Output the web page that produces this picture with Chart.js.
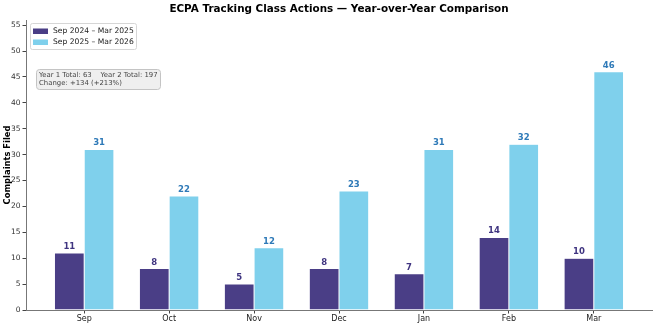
<!DOCTYPE html>
<html>
<head>
<meta charset="utf-8">
<script src="https://cdn.jsdelivr.net/npm/chart.js@4.4.1/dist/chart.umd.min.js"></script>
<style>
  html, body { margin: 0; padding: 0; background: #fff; }
  #wrap { width: 656px; height: 326px; }
</style>
</head>
<body>
<div id="wrap"><canvas id="ecpa"></canvas></div>
<script>
const months = ["Sep", "Oct", "Nov", "Dec", "Jan", "Feb", "Mar"];
const year1 = [11, 8, 5, 8, 7, 14, 10]; // Sep 2024 – Mar 2025
const year2 = [31, 22, 12, 23, 31, 32, 46]; // Sep 2025 – Mar 2026
const yTicks = [0, 5, 10, 15, 20, 25, 30, 35, 40, 45, 50, 55];

const darkCol = "#4a3e86";
const lightCol = "#7fd0ec";
const font = "'DejaVu Sans', sans-serif";

const total1 = year1.reduce((a, b) => a + b, 0);
const total2 = year2.reduce((a, b) => a + b, 0);
const diff = total2 - total1;
const pct = Math.round((diff / total1) * 100);

// titre, légende, encadré et étiquettes de valeurs
const extras = {
  id: "extras",
  afterDatasetsDraw(chart) {
    const ctx = chart.ctx;
    const area = chart.chartArea;
    ctx.save();

    // valeurs au-dessus des barres
    ctx.font = "bold 8.5px " + font;
    ctx.textAlign = "center";
    ctx.textBaseline = "bottom";
    chart.data.datasets.forEach((ds, i) => {
      ctx.fillStyle = i === 0 ? "#3f3480" : "#2f7ab8";
      chart.getDatasetMeta(i).data.forEach((bar, j) => {
        ctx.fillText(String(ds.data[j]), bar.x, bar.y - 2);
      });
    });

    // titre
    ctx.fillStyle = "#000";
    ctx.font = "bold 10.4px " + font;
    ctx.textBaseline = "middle";
    ctx.fillText("ECPA Tracking Class Actions — Year-over-Year Comparison", (area.left + area.right) / 2, 9);

    // légende
    ctx.fillStyle = "rgba(255,255,255,0.9)";
    ctx.strokeStyle = "#d6d6d6";
    ctx.lineWidth = 1;
    ctx.beginPath();
    ctx.roundRect(30.5, 23.5, 106, 26, 2);
    ctx.fill();
    ctx.stroke();
    ctx.font = "7.6px " + font;
    ctx.textAlign = "left";
    chart.data.datasets.forEach((ds, i) => {
      const y = 31 + i * 11;
      ctx.fillStyle = ds.backgroundColor;
      ctx.fillRect(33, y - 2.5, 15, 5.5);
      ctx.fillStyle = "#222";
      ctx.fillText(ds.label, 53, y);
    });

    // encadré des totaux
    ctx.fillStyle = "#efefef";
    ctx.strokeStyle = "#c4c4c4";
    ctx.beginPath();
    ctx.roundRect(36.5, 69.5, 124, 20, 3);
    ctx.fill();
    ctx.stroke();
    ctx.fillStyle = "#444";
    ctx.font = "6.9px " + font;
    ctx.fillText("Year 1 Total: " + total1 + "    Year 2 Total: " + total2, 39, 75.5);
    ctx.fillText("Change: +" + diff + " (+" + pct + "%)", 39, 83.5);

    ctx.restore();
  }
};

const ctx = document.getElementById("ecpa").getContext("2d");
const myChart = new Chart(ctx, {
  type: "bar",
  data: {
    labels: months,
    datasets: [
      {
        label: "Sep 2024 – Mar 2025",
        data: year1,
        backgroundColor: darkCol,
        borderColor: "rgba(255,255,255,0.4)",
        borderWidth: 0.5,
        categoryPercentage: 0.7,
        barPercentage: 1.0,
      },
      {
        label: "Sep 2025 – Mar 2026",
        data: year2,
        backgroundColor: lightCol,
        borderColor: "rgba(255,255,255,0.5)",
        borderWidth: 0.5,
        categoryPercentage: 0.7,
        barPercentage: 1.0,
      },
    ],
  },
  options: {
    responsive: true,
    maintainAspectRatio: false,
    animation: false,
    devicePixelRatio: 1,
    layout: { padding: { top: 20, right: 4, left: 0, bottom: 0 } },
    plugins: {
      legend: { display: false },
      title: { display: false },
      tooltip: { enabled: false },
    },
    scales: {
      x: {
        grid: { display: true, drawOnChartArea: false, offset: false, tickLength: 3.5, color: "#444", tickColor: "#444" },
        border: { color: "#777", width: 1 },
        ticks: { color: "#222", font: { family: font, size: 8 }, padding: 1, maxRotation: 0 },
        afterFit(scale) { scale.height = 16; },
        // marges à la matplotlib (0.05 de chaque côté)
        afterUpdate(scale) {
          scale._startValue = -0.685;
          scale._valueRange = months.length - 1 + 2 * 0.685;
        },
      },
      y: {
        min: 0,
        max: 56,
        grid: { display: true, drawOnChartArea: false, tickLength: 3.5, color: "#444", tickColor: "#444" },
        border: { color: "#777", width: 1 },
        ticks: { color: "#333", font: { family: font, size: 7.5 }, padding: 2, stepSize: 5 },
        afterBuildTicks(scale) {
          scale.ticks = yTicks.map((v) => ({ value: v }));
        },
        title: { display: true, text: "Complaints Filed", color: "#000", font: { family: font, size: 8.4, weight: "bold" }, padding: { top: 3, bottom: 0 } },
        afterFit(scale) { scale.width = 26; },
      },
    },
  },
  plugins: [extras],
});
</script>
</body>
</html>
